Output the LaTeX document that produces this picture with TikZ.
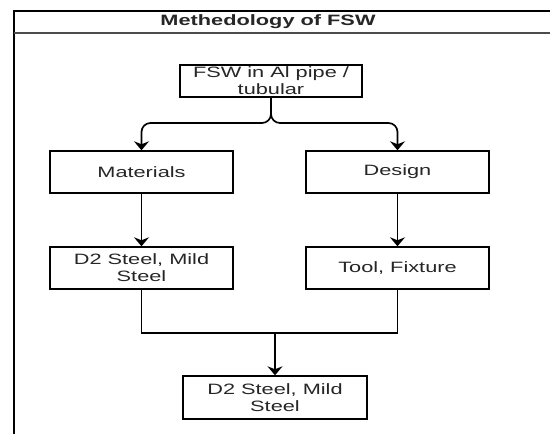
\documentclass[tikz,border=0pt]{standalone}
\usepackage{fontspec}
\setmainfont{Liberation Sans}[FakeStretch=1.45]
\usetikzlibrary{arrows.meta}
\begin{document}
\begin{tikzpicture}[x=1pt,y=-1pt,
  box/.style={draw=black,line width=1.4pt,minimum width=183pt,inner sep=0pt,align=center,
    font=\fontsize{15}{17}\selectfont,text=black!85},
  conn/.style={draw=black,line width=1.7pt},
  arr/.style={conn,-{Stealth[length=9pt,width=15pt,inset=3pt]}}]
\useasboundingbox (0,0) rectangle (550,434);
\clip (0,0) rectangle (550,434);
\fill[white] (0,0) rectangle (550,434);
% frame
\draw[line width=1.4pt] (14,11) rectangle (600,480);
\draw[line width=1.2pt,black!70] (14,33) -- (600,33);
\node[font=\fontsize{15}{17}\selectfont\bfseries,text=black!85] (title) at (268,22) {Methedology of FSW};
% nodes
\node[box,minimum width=182pt,minimum height=32pt] (top) at (271,81) {FSW in Al pipe /\\tubular};
\node[box,minimum height=42pt] (mat) at (141.5,172) {Materials};
\node[box,minimum height=42pt] (des) at (397.5,172) {Design};
\node[box,minimum height=42pt] (d2) at (141.5,268) {D2 Steel, Mild\\Steel};
\node[box,minimum height=42pt] (tool) at (397.5,268) {Tool, Fixture};
\node[box,minimum width=184pt,minimum height=43pt] (bot) at (275,397.5) {D2 Steel, Mild\\Steel};
% connectors
\coordinate (s) at (271,123);
\draw[arr,rounded corners=9pt] (top.south) -- (s) -- (s -| mat.north) -- (mat.north);
\draw[arr,rounded corners=9pt] (top.south) -- (s) -- (s -| des.north) -- (des.north);
\draw[arr] (mat.south) -- (d2.north);
\draw[arr] (des.south) -- (tool.north);
\coordinate (j) at (275,333);
\draw[conn] (d2.south) |- (j) -| (tool.south);
\draw[arr] (j) -- (bot.north);
\end{tikzpicture}
\end{document}
